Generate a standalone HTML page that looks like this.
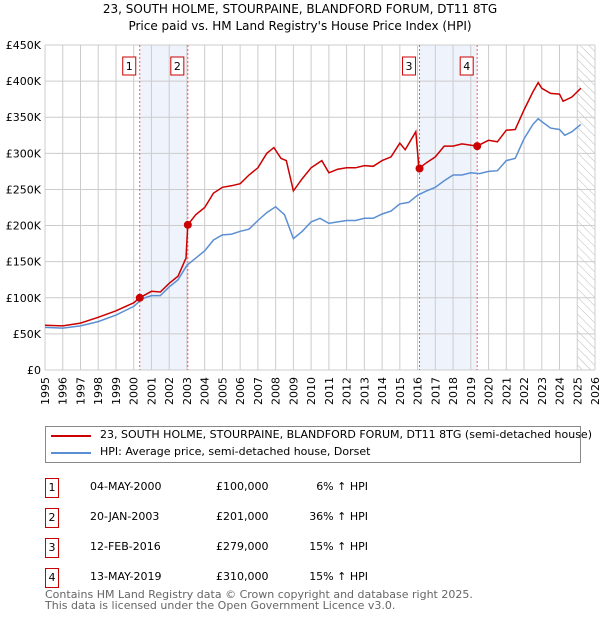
<!DOCTYPE html>
<html><head><meta charset="utf-8"><style>
body{margin:0;background:#fff;font-family:"DejaVu Sans","Liberation Sans",sans-serif;}
#wrap{position:relative;width:600px;height:620px;overflow:hidden}
.t{position:absolute;font-size:12px;color:#000;white-space:nowrap}
.box{position:absolute;border:1px solid #c00;width:12px;height:18px;font-size:11px;text-align:center;line-height:18px}
</style></head><body><div id="wrap">
<div class="t" style="left:0;width:600px;text-align:center;top:2px;font-size:12px">23, SOUTH HOLME, STOURPAINE, BLANDFORD FORUM, DT11 8TG</div>
<div class="t" style="left:0;width:600px;text-align:center;top:19px;font-size:12px">Price paid vs. HM Land Registry's House Price Index (HPI)</div>
<svg id="chart" width="600" height="420" style="position:absolute;left:0;top:0"></svg>
<div style="position:absolute;left:45px;top:426px;width:534px;height:35px;border:1px solid #888"></div>
<div style="position:absolute;left:51px;top:435px;width:40px;height:2px;background:#c00"></div>
<div class="t" style="left:100px;top:428px;font-size:11px">23, SOUTH HOLME, STOURPAINE, BLANDFORD FORUM, DT11 8TG (semi-detached house)</div>
<div style="position:absolute;left:51px;top:452px;width:40px;height:2px;background:#5b8fd4"></div>
<div class="t" style="left:100px;top:445px;font-size:11px">HPI: Average price, semi-detached house, Dorset</div>
<div id="tbl"></div>
<div class="t" style="left:45px;top:589px;font-size:11px;color:#666;line-height:11px">Contains HM Land Registry data © Crown copyright and database right 2025.<br>This data is licensed under the Open Government Licence v3.0.</div>
</div>
<script>
const hpiX=[1995,1996,1997,1998,1999,2000,2000.5,2001,2001.5,2002,2002.5,2003,2003.5,2004,2004.5,2005,2005.5,2006,2006.5,2007,2007.5,2008,2008.5,2009,2009.5,2010,2010.5,2011,2011.5,2012,2012.5,2013,2013.5,2014,2014.5,2015,2015.5,2016,2016.5,2017,2017.5,2018,2018.5,2019,2019.5,2020,2020.5,2021,2021.5,2022,2022.5,2022.8,2023,2023.5,2024,2024.3,2024.7,2025.2];
const hpiY=[59,58,61,67,76,88,99,103,103,115,125,145,155,165,180,187,188,192,195,207,218,226,215,182,192,205,210,203,205,207,207,210,210,216,220,230,232,242,248,253,262,270,270,273,272,275,276,290,293,320,340,348,344,335,333,325,330,340];
const redX=[1995,1996,1997,1998,1999,2000,2000.34,2001,2001.5,2002,2002.5,2002.95,2003.05,2003.5,2004,2004.5,2005,2005.5,2006,2006.5,2007,2007.5,2007.9,2008.3,2008.6,2009,2009.5,2010,2010.6,2011,2011.5,2012,2012.5,2013,2013.5,2014,2014.5,2015,2015.3,2015.9,2016.08,2016.5,2017,2017.5,2018,2018.5,2019.36,2020,2020.5,2021,2021.5,2022,2022.5,2022.8,2023,2023.5,2024,2024.2,2024.7,2025.2];
const redY=[62,61,65,73,82,93,100,109,108,120,130,155,201,215,225,245,253,255,258,270,280,300,308,293,290,248,265,280,290,273,278,280,280,283,282,290,295,314,305,330,279,287,295,310,310,313,310,318,316,332,333,360,385,398,390,383,382,372,378,390];
const saleX=[2000.34,2003.05,2016.11,2019.36];
const saleY=[100,201,279,310];
const saleLabels=["1","2","3","4"];
const saleDates=["04-MAY-2000","20-JAN-2003","12-FEB-2016","13-MAY-2019"];
const salePrices=["£100,000","£201,000","£279,000","£310,000"];
const saleHpi=["6% ↑ HPI","36% ↑ HPI","15% ↑ HPI","15% ↑ HPI"];
const yTicks=[0,50,100,150,200,250,300,350,400,450];
const yTickLabels=["£0","£50K","£100K","£150K","£200K","£250K","£300K","£350K","£400K","£450K"];
const xStart=1995,xEnd=2026,dataEnd=2025.0;
const L=45,R=595,T=45,B=370;
const sx=v=>L+(v-xStart)/(xEnd-xStart)*(R-L);
const sy=v=>B-v/450*(B-T);
const svg=document.getElementById('chart');const NS='http://www.w3.org/2000/svg';
function mk(tag,at,parent){const e=document.createElementNS(NS,tag);for(const k in at)e.setAttribute(k,at[k]);(parent||svg).appendChild(e);return e;}
let e;
e=mk('defs',{});
e.innerHTML='<pattern id="hatch" width="6" height="6" patternUnits="userSpaceOnUse" patternTransform="rotate(-45)"><line x1="0" y1="0" x2="0" y2="6" stroke="#bbb" stroke-width="1"/></pattern>';
for(let i=0;i<2;i++){
e=mk('rect',{x:sx(saleX[i*2]),y:T,width:sx(saleX[i*2+1])-sx(saleX[i*2]),height:B-T,fill:'#eef3fc'});


}
e=mk('rect',{x:sx(dataEnd),y:T,width:R-sx(dataEnd),height:B-T,fill:'url(#hatch)'});


for(let y=xStart;y<=xEnd;y++){
e=mk('line',{x1:sx(y),x2:sx(y),y1:T,y2:B,stroke:'#ccc','stroke-width':1});


e=mk('text',{x:0,y:0,'text-anchor':'end','font-size':11,'font-family':'DejaVu Sans, sans-serif',transform:'translate('+(sx(y)+4)+',377) rotate(-90)'});
e.textContent=y;


}
yTicks.forEach((v,i)=>{
e=mk('line',{x1:L,x2:R,y1:sy(v),y2:sy(v),stroke:'#ccc','stroke-width':1});


e=mk('text',{x:L-4,y:sy(v)+4,'text-anchor':'end','font-size':11,'font-family':'DejaVu Sans, sans-serif'});
e.textContent=yTickLabels[i];


});
saleX.forEach((v,i)=>{
e=mk('line',{x1:sx(v),x2:sx(v),y1:T,y2:B,stroke:'#f55','stroke-width':1,'stroke-dasharray':'2,2'});


const g=mk('g',{});


mk('rect',{x:sx(v)-17,y:57,width:13,height:18,fill:'#fff',stroke:'#c00'},g);
const t=mk('text',{x:sx(v)-10.5,y:70,'text-anchor':'middle','font-size':11,'font-family':'DejaVu Sans, sans-serif'},g);
t.textContent=saleLabels[i];
});
function path(xs,ys){return xs.map((x,i)=>(i?'L':'M')+sx(x).toFixed(1)+','+sy(ys[i]).toFixed(1)).join('');}
e=mk('path',{d:path(hpiX,hpiY),fill:'none',stroke:'#5b8fd4','stroke-width':1.5});


e=mk('path',{d:path(redX,redY),fill:'none',stroke:'#c00','stroke-width':1.5});


saleX.forEach((v,i)=>{
e=mk('circle',{cx:sx(v),cy:sy(saleY[i]),r:4,fill:'#c00'});


});
const tbl=document.getElementById('tbl');
saleLabels.forEach((s,i)=>{
const top=478+i*30;
const b=document.createElement('div');b.className='box';b.style.left='45px';b.style.top=top+'px';b.textContent=s;


tbl.appendChild(b);
[[90,saleDates[i]],[216,salePrices[i]],[290,saleHpi[i]]].forEach(([x,txt],j)=>{
const d=document.createElement('div');d.className='t';d.style.top=(top+2)+'px';d.textContent=txt;d.style.fontSize='11px';
if(j==2){d.style.left='250px';d.style.width='118px';d.style.textAlign='right';}else d.style.left=x+'px';


tbl.appendChild(d);
});
});
</script></body></html>
